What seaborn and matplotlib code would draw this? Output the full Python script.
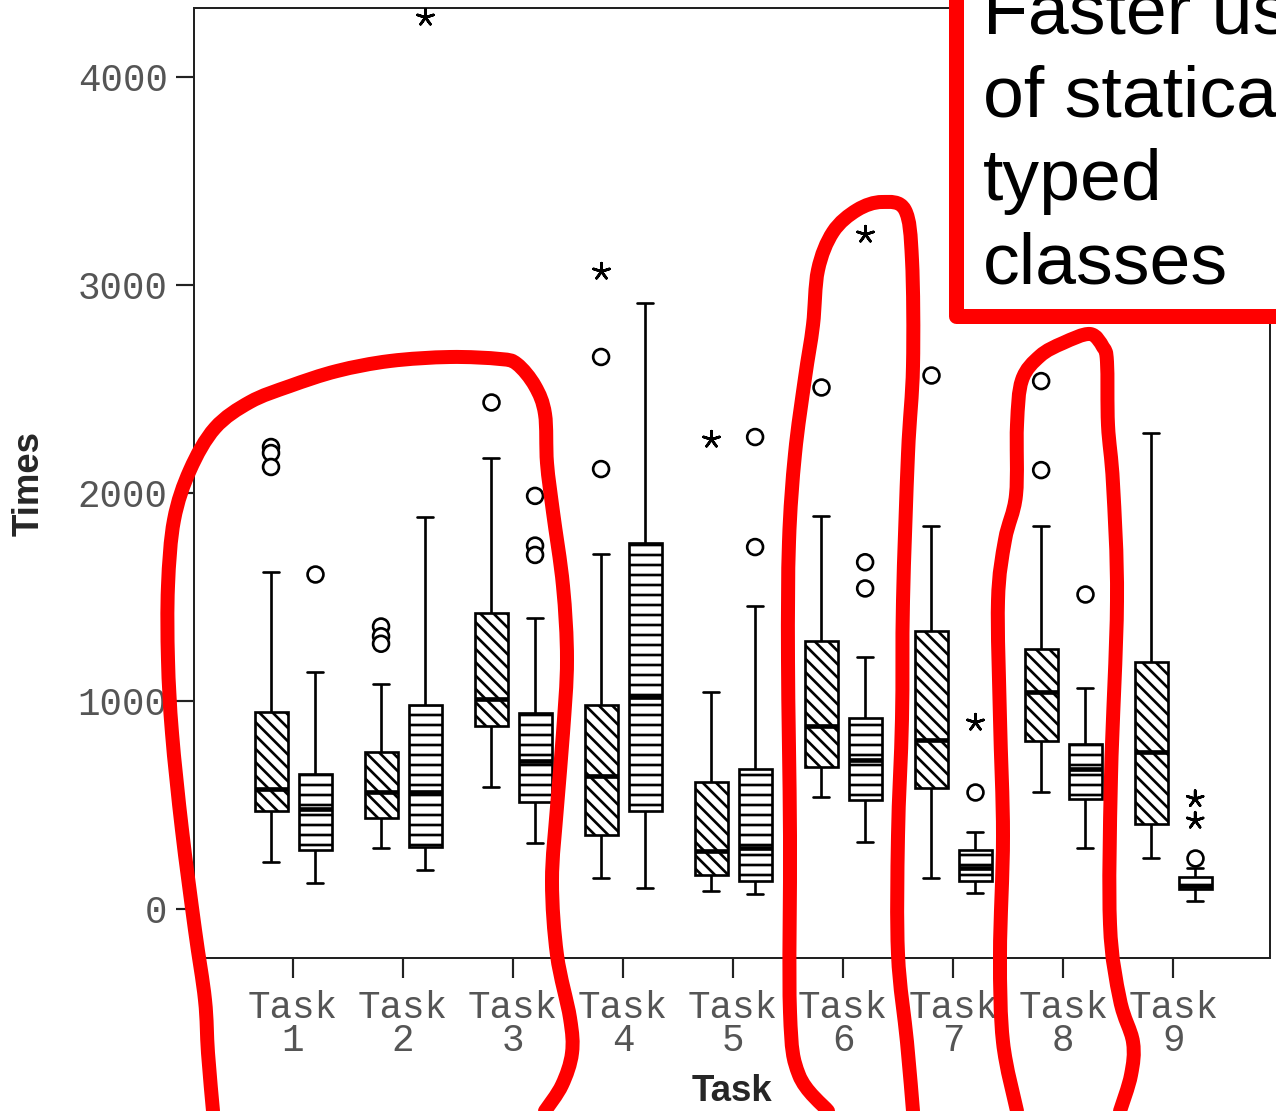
import numpy as np
import pandas as pd
import matplotlib
matplotlib.use("Agg")
import matplotlib.pyplot as plt
from matplotlib.patches import Rectangle, PathPatch
from matplotlib.path import Path
import seaborn as sns

# ---------------- data ----------------
tasks = [f"Task\n{i}" for i in range(1, 10)]
groups = ["Group A", "Group B"]

# five-number summaries (lower whisker, Q1, median, Q3, upper whisker)
a_low = [224, 293, 588, 149, 85, 536, 147, 564, 243]
a_q1 = [473, 436, 881, 356, 165, 684, 582, 809, 409]
a_med = [577, 561, 1010, 641, 280, 881, 813, 1045, 753]
a_q3 = [945, 756, 1421, 982, 609, 1290, 1338, 1250, 1186]
a_high = [1619, 1082, 2168, 1707, 1045, 1889, 1841, 1841, 2288]

b_low = [124, 189, 317, 101, 72, 320, 77, 291, 40]
b_q1 = [284, 299, 513, 473, 136, 526, 133, 529, 96]
b_med = [481, 564, 709, 1017, 293, 716, 197, 673, 112]
b_q3 = [649, 981, 940, 1760, 673, 917, 284, 793, 152]
b_high = [1138, 1885, 1399, 2913, 1455, 1210, 372, 1061, 195]

# outliers (circles) and extreme values (stars): task index, group index, value
circle_task = [0, 0, 0, 0, 1, 1, 1, 2, 2, 2, 2, 3, 3, 4, 4, 5, 5, 5, 6, 6, 7, 7, 7, 8]
circle_group = [0, 0, 0, 1, 0, 0, 0, 0, 1, 1, 1, 0, 0, 1, 1, 0, 1, 1, 0, 1, 0, 0, 1, 1]
circle_value = [2221, 2192, 2125, 1611, 1358, 1311, 1275, 2437, 1986, 1747, 1702,
                2654, 2115, 2269, 1740, 2510, 1667, 1541, 2567, 561, 2538, 2110, 1514, 244]

star_task = [1, 3, 4, 5, 6, 8, 8]
star_group = [1, 0, 0, 1, 1, 1, 1]
star_value = [4288, 3067, 2260, 3245, 898, 529, 425]

y_ticks = [0, 1000, 2000, 3000, 4000]

# annotation
note_lines = ["Faster use", "of statically", "typed", "classes"]

# hand-drawn red loops (figure pixel coordinates of the annotation strokes)
loop1 = [(213, 1111), (208, 1053), (205, 1000), (195, 930), (182, 830),
         (172, 733), (168, 660), (168, 586), (174, 520), (190, 470),
         (215, 428), (250, 402), (290, 386), (337, 371), (390, 361), (450, 357),
         (500, 359), (517, 364), (535, 386), (545, 414), (547, 463), (553, 512),
         (563, 586), (567, 660), (563, 733), (557, 807), (552, 881), (557, 955),
         (570, 1018), (572, 1053), (562, 1085), (545, 1111)]
loop2 = [(828, 1111), (799, 1075), (790, 1012), (790, 836), (788, 660), (789, 542),
         (795, 454), (805, 378), (813, 325), (818, 270), (833, 232), (857, 210),
         (882, 202), (905, 210), (912, 260), (913, 366), (908, 454), (903, 601),
         (902, 719), (898, 836), (898, 954), (907, 1042), (913, 1111)]
loop3 = [(1017, 1111), (1003, 1042), (1000, 954), (1003, 836), (1000, 719),
         (998, 601), (1005, 540), (1016, 495), (1017, 425), (1022, 380),
         (1040, 356), (1063, 343), (1090, 334), (1103, 347), (1107, 362),
         (1108, 425), (1113, 484), (1117, 601), (1111, 777), (1110, 924),
         (1120, 1000), (1133, 1042), (1131, 1075), (1120, 1111)]

# ---------------- figure ----------------
W, H, DPI = 1276, 1111, 120
sns.set_theme(style="ticks")
plt.rcParams["font.family"] = ["Liberation Sans", "DejaVu Sans"]
plt.rcParams["hatch.linewidth"] = 1.6
plt.rcParams["hatch.color"] = "black"

fig = plt.figure(figsize=(W / DPI, H / DPI), dpi=DPI)
fig.patch.set_facecolor("white")
ax = fig.add_axes([194 / W, 1 - 958 / H, (1270 - 194) / W, (958 - 8) / H])
ax.set_facecolor("white")

rows = []
stats = {groups[0]: (a_low, a_q1, a_med, a_q3, a_high),
         groups[1]: (b_low, b_q1, b_med, b_q3, b_high)}
for i, t in enumerate(tasks):
    for g in groups:
        for s in stats[g]:
            rows.append({"Task": t, "Group": g, "Times": s[i]})
df = pd.DataFrame(rows)

white = {g: "white" for g in groups}
black = {g: "black" for g in groups}

sns.boxplot(data=df, x="Task", y="Times", hue="Group", order=tasks, hue_order=groups,
            palette=white, linecolor="black", linewidth=1.6, width=0.8, gap=0.25,
            whis=(0, 100), showfliers=False, medianprops={"linewidth": 2.8},
            legend=False, ax=ax)

for p in ax.patches:
    v = p.get_path().vertices
    xc = (v[:, 0].min() + v[:, 0].max()) / 2
    off = xc - np.round(xc)
    p.set_hatch("\\\\\\" if off < 0 else "--")
    p.set_edgecolor("black")

circ_df = pd.DataFrame({"Task": [tasks[i] for i in circle_task],
                        "Group": [groups[g] for g in circle_group],
                        "Times": circle_value})
star_df = pd.DataFrame({"Task": [tasks[i] for i in star_task],
                        "Group": [groups[g] for g in star_group],
                        "Times": star_value})

sns.stripplot(data=circ_df, x="Task", y="Times", hue="Group", order=tasks,
              hue_order=groups, dodge=True, jitter=False, palette=white,
              edgecolor="black", linewidth=1.6, size=9.5, marker="o",
              legend=False, ax=ax, zorder=4)
sns.stripplot(data=star_df, x="Task", y="Times", hue="Group", order=tasks,
              hue_order=groups, dodge=True, jitter=False, palette=black,
              edgecolor="black", linewidth=1.6, size=10, marker=(5, 2, 0),
              legend=False, ax=ax, zorder=4)

ax.set_xlim(-0.9, 8.88)
ax.set_ylim(-236, 4332)
ax.set_yticks(y_ticks)
ax.set_yticklabels([str(t) for t in y_ticks])
ax.set_xticks(range(len(tasks)))
ax.set_xticklabels(tasks)

ax.tick_params(axis="y", length=10.8, width=1.3, pad=5, labelsize=22.5,
               labelcolor="#555555", color="#222222", direction="out", left=True)
ax.tick_params(axis="x", length=12, width=1.3, pad=7, labelsize=22.5,
               labelcolor="#555555", color="#222222", direction="out", bottom=True)
for lab in ax.get_xticklabels() + ax.get_yticklabels():
    lab.set_fontfamily(["Liberation Mono", "DejaVu Sans Mono"])
for lab in ax.get_xticklabels():
    lab.set_linespacing(0.92)
    lab.set_multialignment("center")

for s in ax.spines.values():
    s.set_visible(True)
    s.set_linewidth(1.2)
    s.set_color("#222222")

ax.set_ylabel("Times", fontsize=22, fontweight="bold",
              family=["Liberation Sans Narrow", "Liberation Sans", "DejaVu Sans"])
ax.set_xlabel("Task", fontsize=22, fontweight="bold",
              family=["Liberation Sans Narrow", "Liberation Sans", "DejaVu Sans"])
ax.yaxis.set_label_coords(-0.137, 0.5)
ax.xaxis.set_label_coords(0.5, -0.122)

# ---------------- annotations ----------------
def smooth_path(pts):
    """Catmull-Rom through the stroke points, drawn as cubic Bezier segments."""
    P = np.array([(x / W, 1 - y / H) for x, y in pts])
    verts = [P[0]]
    codes = [Path.MOVETO]
    n = len(P)
    for i in range(n - 1):
        p0 = P[max(i - 1, 0)]
        p1 = P[i]
        p2 = P[i + 1]
        p3 = P[min(i + 2, n - 1)]
        c1 = p1 + (p2 - p0) / 6
        c2 = p2 - (p3 - p1) / 6
        verts += [c1, c2, p2]
        codes += [Path.CURVE4] * 3
    return Path(verts, codes)

for loop in (loop1, loop2, loop3):
    fig.add_artist(PathPatch(smooth_path(loop), transform=fig.transFigure,
                             facecolor="none", edgecolor="#ff0000", lw=8.4,
                             capstyle="round", joinstyle="round", zorder=20))

box = Rectangle((956 / W, 1 - 316 / H), (1400 - 956) / W, 400 / H,
                transform=fig.transFigure, facecolor="white", edgecolor="#ff0000",
                lw=9, joinstyle="round", zorder=21)
fig.add_artist(box)
for txt, base in zip(note_lines, [33, 117, 200, 283]):
    fig.text(983 / W, 1 - base / H, txt, fontsize=44, color="black",
             family=["Liberation Sans", "DejaVu Sans"], ha="left", va="baseline",
             zorder=22)

fig.savefig("out.png", dpi=DPI)
